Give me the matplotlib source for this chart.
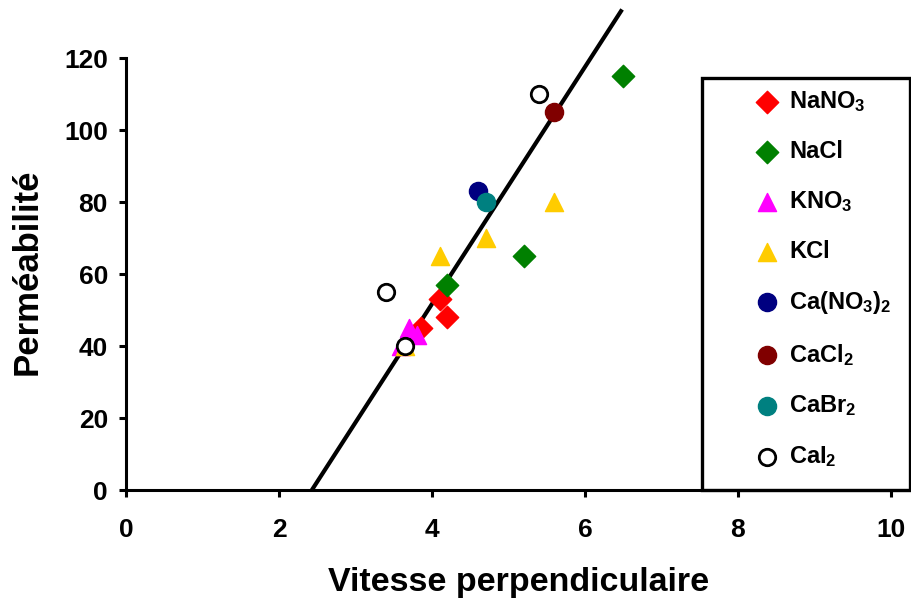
import matplotlib.pyplot as plt
from matplotlib.patches import Rectangle

plt.rcParams['font.family'] = ['Liberation Sans', 'DejaVu Sans']
plt.rcParams['font.weight'] = 'bold'
plt.rcParams['mathtext.fontset'] = 'custom'
plt.rcParams['mathtext.rm'] = 'Liberation Sans:bold'
plt.rcParams['mathtext.bf'] = 'Liberation Sans:bold'
plt.rcParams['mathtext.default'] = 'bf'

# data
nano3_x = [4.1, 4.2, 3.85]
nano3_y = [53, 48, 45]
nacl_x = [4.2, 5.2, 6.5]
nacl_y = [57, 65, 115]
kno3_x = [3.7, 3.6, 3.8]
kno3_y = [45, 40, 43]
kcl_x = [3.65, 4.1, 4.7, 5.6]
kcl_y = [40, 65, 70, 80]
cano32_x = [4.6]
cano32_y = [83]
cacl2_x = [5.6]
cacl2_y = [105]
cabr2_x = [4.7]
cabr2_y = [80]
cai2_x = [3.4, 3.65, 5.4]
cai2_y = [55, 40, 110]

# fitted line
fit_x = [2.43, 6.47]
fit_y = [0, 133]

fig = plt.figure(figsize=(9.12, 6.07), dpi=100)
ax = fig.add_axes([126 / 912, 1 - 490 / 607, 786 / 912, 486 / 607])

ax.plot(fit_x, fit_y, color="black", lw=3, zorder=2)

ax.scatter(nano3_x, nano3_y, marker="D", s=130, c="#FF0000", label="NaNO$_3$", zorder=3)
ax.scatter(nacl_x, nacl_y, marker="D", s=130, c="#008000", label="NaCl", zorder=3)
ax.scatter(kno3_x, kno3_y, marker="^", s=170, c="#FF00FF", label="KNO$_3$", zorder=3)
ax.scatter(kcl_x, kcl_y, marker="^", s=170, c="#FFCC00", label="KCl", zorder=3)
ax.scatter(cano32_x, cano32_y, marker="o", s=170, c="#000080", label="Ca(NO$_3$)$_2$", zorder=3)
ax.scatter(cacl2_x, cacl2_y, marker="o", s=170, c="#800000", label="CaCl$_2$", zorder=3)
ax.scatter(cabr2_x, cabr2_y, marker="o", s=170, c="#008080", label="CaBr$_2$", zorder=3)
ax.scatter(cai2_x, cai2_y, marker="o", s=140, facecolors="white", edgecolors="black",
           linewidths=2, label="CaI$_2$", zorder=4)

ax.set_xlim(0, 786 / 76.5)
ax.set_ylim(0, 135)
ax.set_xticks([0, 2, 4, 6, 8, 10])
ax.set_yticks([0, 20, 40, 60, 80, 100, 120])

ax.spines['top'].set_visible(False)
ax.spines['right'].set_visible(False)
ax.spines['left'].set_bounds(0, 120)
ax.spines['left'].set_linewidth(2.2)
ax.spines['bottom'].set_linewidth(2.2)
ax.tick_params(axis='both', direction='out', length=5, width=2.2, labelsize=19)
ax.tick_params(axis='x', pad=15)
ax.tick_params(axis='y', pad=8)

ax.set_xlabel("Vitesse perpendiculaire", fontsize=24.5, fontweight="bold", labelpad=18)
ax.set_ylabel("Perméabilité", fontsize=25, fontweight="bold")
ax.yaxis.set_label_coords((44 - 126) / 786, (490 - 272) / 486)

# legend frame
frame = Rectangle(((702 - 126) / 786, 0), (910 - 702) / 786, (490 - 78) / 486,
                  transform=ax.transAxes, fill=False, edgecolor="black", lw=2.4,
                  clip_on=False, zorder=5)
ax.add_patch(frame)

ax.legend(loc="upper left", bbox_to_anchor=((755 - 126) / 786, (490 - 89) / 486),
          frameon=False, fontsize=17, borderpad=0, handlelength=1.0,
          handletextpad=0.45, labelspacing=1.1, markerscale=1.0, borderaxespad=0)

plt.savefig("out.png", dpi=100)
